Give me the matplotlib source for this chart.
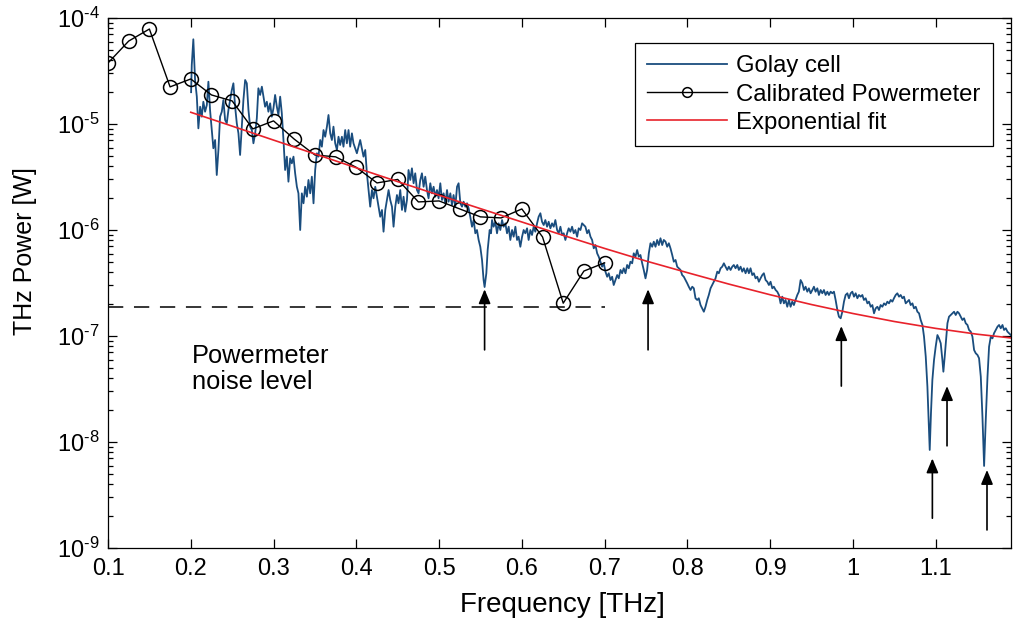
import matplotlib
matplotlib.use("Agg")
import matplotlib.pyplot as plt
import numpy as np
from matplotlib.ticker import FixedLocator, NullLocator, LogLocator, FixedFormatter, FuncFormatter


# =========================
# DATOS
# =========================

# Golay cell: frecuencia [THz] y log10 de la potencia [W]
golay_freq = [
    0.2004, 0.2012, 0.2031, 0.2052, 0.2073, 0.2092, 0.2113, 0.2133, 0.2152, 0.2173,
    0.2194, 0.2213, 0.2233, 0.2254, 0.2273, 0.2294, 0.2314, 0.2334, 0.2354, 0.2375,
    0.2394, 0.2415, 0.2435, 0.2455, 0.2496, 0.2515, 0.2536, 0.2556, 0.2576, 0.2596,
    0.2617, 0.2636, 0.2657, 0.2677, 0.2697, 0.2717, 0.2738, 0.2757, 0.2778, 0.2798,
    0.2817, 0.2838, 0.2859, 0.2878, 0.2898, 0.2919, 0.2938, 0.2959, 0.2979, 0.2999,
    0.3019, 0.3040, 0.3059, 0.3080, 0.3100, 0.3120, 0.3140, 0.3161, 0.3180, 0.3201,
    0.3221, 0.3241, 0.3261, 0.3282, 0.3301, 0.3322, 0.3342, 0.3362, 0.3382, 0.3403,
    0.3422, 0.3443, 0.3463, 0.3483, 0.3503, 0.3524, 0.3543, 0.3564, 0.3584, 0.3604,
    0.3624, 0.3645, 0.3664, 0.3685, 0.3705, 0.3724, 0.3745, 0.3766, 0.3785, 0.3805,
    0.3826, 0.3845, 0.3866, 0.3886, 0.3906, 0.3926, 0.3947, 0.3966,
    0.4007, 0.4047, 0.4087, 0.4108, 0.4128, 0.4148, 0.4168, 0.4189, 0.4208, 0.4229,
    0.4249, 0.4269, 0.4289, 0.4310, 0.4329, 0.4350, 0.4370, 0.4390, 0.4410, 0.4431,
    0.4450, 0.4471, 0.4491, 0.4510, 0.4531, 0.4552, 0.4571, 0.4591, 0.4612, 0.4631,
    0.4652, 0.4672, 0.4692, 0.4712, 0.4733, 0.4752, 0.4773, 0.4793, 0.4813, 0.4833,
    0.4854, 0.4873, 0.4894, 0.4914, 0.4934, 0.4954, 0.4975, 0.4994, 0.5015, 0.5035,
    0.5055, 0.5075, 0.5096, 0.5115, 0.5136, 0.5156, 0.5175, 0.5196, 0.5217, 0.5236,
    0.5257, 0.5277, 0.5296, 0.5317, 0.5338, 0.5357, 0.5377, 0.5398, 0.5418, 0.5438,
    0.5458, 0.5478, 0.5498, 0.5519, 0.5538, 0.5550, 0.5571, 0.5587, 0.5611, 0.5628,
    0.5640, 0.5659, 0.5680, 0.5700, 0.5720, 0.5740, 0.5761, 0.5780, 0.5801, 0.5821,
    0.5841, 0.5861, 0.5882, 0.5901, 0.5922, 0.5942, 0.5961, 0.5982, 0.6003, 0.6022,
    0.6042, 0.6063, 0.6082, 0.6103, 0.6123, 0.6143, 0.6163, 0.6184, 0.6203, 0.6224,
    0.6244, 0.6264, 0.6284, 0.6305, 0.6324, 0.6345, 0.6365, 0.6385, 0.6405, 0.6426,
    0.6445, 0.6466, 0.6486, 0.6506, 0.6526, 0.6547, 0.6566, 0.6587, 0.6607, 0.6627,
    0.6647, 0.6668, 0.6687, 0.6708, 0.6728, 0.6748, 0.6768, 0.6789, 0.6808, 0.6829,
    0.6849, 0.6869, 0.6889, 0.6910, 0.6929, 0.6950, 0.6970, 0.6990, 0.7010, 0.7031,
    0.7050, 0.7071, 0.7091, 0.7110, 0.7131, 0.7152, 0.7171, 0.7192, 0.7212, 0.7231,
    0.7252, 0.7272, 0.7292, 0.7312, 0.7333, 0.7352, 0.7373, 0.7393, 0.7413, 0.7433,
    0.7454, 0.7473, 0.7494, 0.7514, 0.7534, 0.7554, 0.7575, 0.7594, 0.7615, 0.7635,
    0.7655, 0.7675, 0.7696, 0.7715, 0.7736, 0.7756, 0.7776, 0.7796, 0.7817, 0.7836,
    0.7857, 0.7877, 0.7897, 0.7917, 0.7937, 0.7957, 0.7978, 0.7998, 0.8017,
    0.8038, 0.8059, 0.8078, 0.8098, 0.8119, 0.8138, 0.8159, 0.8179, 0.8199, 0.8219,
    0.8240, 0.8259, 0.8280, 0.8300, 0.8320, 0.8340, 0.8361, 0.8380, 0.8401, 0.8421,
    0.8441, 0.8461, 0.8482, 0.8501, 0.8522, 0.8542, 0.8561, 0.8582, 0.8603, 0.8622,
    0.8643, 0.8663, 0.8682, 0.8703, 0.8724, 0.8743, 0.8763, 0.8784, 0.8803, 0.8824,
    0.8844, 0.8864, 0.8884, 0.8905, 0.8924, 0.8945, 0.8965, 0.8985, 0.9005, 0.9026,
    0.9045, 0.9066, 0.9086, 0.9106, 0.9126, 0.9147, 0.9166, 0.9186, 0.9207, 0.9227,
    0.9247, 0.9267, 0.9287, 0.9307, 0.9328, 0.9347, 0.9368, 0.9389, 0.9408, 0.9428,
    0.9449, 0.9468, 0.9489, 0.9510, 0.9529, 0.9549, 0.9570, 0.9589, 0.9610, 0.9630,
    0.9650, 0.9670, 0.9691, 0.9710, 0.9731, 0.9751, 0.9771, 0.9791, 0.9812, 0.9831,
    0.9852, 0.9872, 0.9892, 0.9912, 0.9933, 0.9952, 0.9973, 0.9993, 1.0013, 1.0033,
    1.0054, 1.0073, 1.0094, 1.0114, 1.0133, 1.0154, 1.0175, 1.0194, 1.0215, 1.0235,
    1.0255, 1.0275, 1.0296, 1.0315, 1.0335, 1.0356, 1.0376, 1.0396, 1.0416, 1.0436,
    1.0457, 1.0477, 1.0496, 1.0517, 1.0537, 1.0557, 1.0577, 1.0598, 1.0617, 1.0638,
    1.0658, 1.0678, 1.0698, 1.0719, 1.0738, 1.0759, 1.0779, 1.0799, 1.0819, 1.0840,
    1.0859, 1.0880, 1.0900, 1.0912, 1.0928, 1.0943, 1.0960, 1.0980, 1.1000, 1.1021,
    1.1040, 1.1061, 1.1081, 1.1093, 1.1109, 1.1125, 1.1142, 1.1161, 1.1182, 1.1203,
    1.1222, 1.1242, 1.1263, 1.1282, 1.1303, 1.1323, 1.1343, 1.1363, 1.1384, 1.1403,
    1.1424, 1.1444, 1.1464, 1.1484, 1.1505, 1.1524, 1.1545, 1.1565, 1.1585, 1.1605,
    1.1626, 1.1645, 1.1666, 1.1686, 1.1705, 1.1726, 1.1747, 1.1766, 1.1786, 1.1807,
    1.1826, 1.1847, 1.1867, 1.1887, 1.1908,
]

golay_log10_power = [
    -4.700, -4.443, -4.201, -4.585, -4.742, -5.041, -4.837, -4.931, -4.790, -4.884,
    -4.821, -4.601, -4.868, -5.057, -5.229, -5.151, -5.481, -5.245, -4.931, -4.884,
    -4.774, -4.962, -4.993, -4.868, -4.679, -4.616, -4.837, -4.993, -5.088, -5.292,
    -5.025, -4.774, -4.585, -4.616, -4.868, -5.025, -5.057, -5.182, -5.088, -4.946,
    -4.663, -4.726, -4.648, -4.742, -4.837, -4.790, -4.884, -4.805, -4.931, -4.852,
    -4.726, -4.837, -4.915, -4.742, -4.899, -5.151, -5.434, -5.308, -5.544, -5.324,
    -5.371, -5.308, -5.465, -5.592, -5.654, -6.000, -5.654, -5.748, -5.592, -5.686,
    -5.528, -5.654, -5.497, -5.748, -5.434, -5.276, -5.308, -5.151, -5.214, -5.057,
    -5.120, -5.025, -4.915, -5.088, -5.151, -5.025, -5.182, -5.245, -5.120, -5.198,
    -5.120, -5.214, -5.057, -5.182, -5.057, -5.214, -5.088, -5.182,
    -5.276, -5.151, -5.308, -5.245, -5.465, -5.623, -5.780, -5.623, -5.701, -5.592,
    -5.686, -5.780, -5.875, -5.811, -6.016, -5.811, -5.717, -5.623, -5.717, -5.780,
    -5.969, -5.780, -5.670, -5.748, -5.623, -5.811, -5.686, -5.827, -5.717, -5.434,
    -5.528, -5.418, -5.559, -5.465, -5.623, -5.654, -5.528, -5.465, -5.592, -5.497,
    -5.623, -5.701, -5.559, -5.654, -5.592, -5.686, -5.623, -5.701, -5.559, -5.717,
    -5.654, -5.748, -5.623, -5.733, -5.654, -5.764, -5.670, -5.780, -5.592, -5.559,
    -5.748, -5.780, -5.733, -5.780, -5.748, -5.795, -5.875, -5.969, -5.906, -6.031,
    -6.000, -6.094, -6.158, -6.283, -6.472, -6.538, -6.408, -6.189, -6.000, -6.031,
    -5.906, -5.969, -5.922, -6.031, -5.937, -6.000, -5.906, -5.969, -5.937, -6.031,
    -5.969, -6.094, -6.000, -6.063, -5.969, -6.094, -6.063, -6.158, -6.063, -6.000,
    -6.031, -5.984, -6.094, -6.000, -6.047, -5.969, -6.016, -5.937, -5.875, -5.842,
    -5.922, -5.953, -5.906, -5.969, -5.922, -5.984, -5.937, -5.969, -5.906, -6.000,
    -6.031, -5.969, -6.047, -6.031, -6.094, -6.031, -5.984, -6.016, -5.969, -6.031,
    -6.000, -6.063, -5.984, -6.000, -5.937, -5.953, -5.969, -6.031, -6.000, -6.063,
    -6.094, -6.173, -6.142, -6.220, -6.252, -6.299, -6.346, -6.314, -6.393, -6.441,
    -6.408, -6.472, -6.441, -6.519, -6.472, -6.425, -6.456, -6.377, -6.408, -6.361,
    -6.408, -6.330, -6.361, -6.299, -6.314, -6.220, -6.252, -6.189, -6.252, -6.236,
    -6.314, -6.377, -6.456, -6.377, -6.220, -6.125, -6.158, -6.110, -6.158, -6.094,
    -6.142, -6.078, -6.142, -6.094, -6.110, -6.158, -6.125, -6.173, -6.236, -6.299,
    -6.283, -6.346, -6.361, -6.377, -6.425, -6.441, -6.472, -6.503, -6.535,
    -6.566, -6.535, -6.550, -6.644, -6.660, -6.644, -6.708, -6.739, -6.771, -6.724,
    -6.660, -6.613, -6.550, -6.519, -6.488, -6.456, -6.393, -6.408, -6.361, -6.346,
    -6.314, -6.346, -6.377, -6.346, -6.377, -6.346, -6.330, -6.361, -6.330, -6.377,
    -6.346, -6.393, -6.361, -6.408, -6.361, -6.408, -6.361, -6.425, -6.408, -6.456,
    -6.441, -6.488, -6.456, -6.425, -6.408, -6.472, -6.488, -6.519, -6.488, -6.550,
    -6.535, -6.566, -6.582, -6.613, -6.692, -6.629, -6.692, -6.660, -6.724, -6.660,
    -6.724, -6.676, -6.708, -6.660, -6.613, -6.582, -6.472, -6.503, -6.566, -6.535,
    -6.582, -6.550, -6.597, -6.566, -6.535, -6.582, -6.550, -6.613, -6.566, -6.597,
    -6.566, -6.613, -6.582, -6.613, -6.582, -6.597, -6.582, -6.660, -6.755, -6.818,
    -6.833, -6.771, -6.676, -6.613, -6.597, -6.644, -6.597, -6.582, -6.629, -6.597,
    -6.644, -6.613, -6.629, -6.613, -6.660, -6.644, -6.692, -6.676, -6.724, -6.708,
    -6.786, -6.739, -6.724, -6.755, -6.708, -6.724, -6.692, -6.708, -6.676, -6.692,
    -6.660, -6.676, -6.644, -6.613, -6.597, -6.629, -6.613, -6.644, -6.629, -6.692,
    -6.676, -6.660, -6.708, -6.692, -6.739, -6.724, -6.771, -6.786, -6.849, -6.896,
    -7.006, -7.195, -7.478, -7.729, -8.075, -7.729, -7.415, -7.226, -7.101, -6.991,
    -7.022, -7.069, -7.226, -7.337, -7.195, -7.038, -6.880, -6.818, -6.802, -6.786,
    -6.771, -6.802, -6.771, -6.786, -6.818, -6.849, -6.833, -6.880, -6.896, -6.943,
    -6.959, -7.006, -7.132, -7.163, -7.179, -7.210, -7.384, -7.761, -8.226, -7.792,
    -7.384, -7.101, -7.006, -7.022, -6.974, -6.943, -6.912, -6.896, -6.927, -6.896,
    -6.943, -6.927, -6.959, -6.974, -6.991,
]

# Powermeter calibrado [W]
pm_freq = [0.100, 0.125, 0.150, 0.175, 0.200, 0.225, 0.250, 0.275, 0.300, 0.325,
           0.350, 0.375, 0.400, 0.425, 0.450, 0.475, 0.500, 0.525, 0.550, 0.575,
           0.600, 0.625, 0.650, 0.675, 0.700]
pm_power = [3.76e-5, 6.06e-5, 7.87e-5, 2.24e-5, 2.66e-5, 1.88e-5, 1.65e-5, 9.0e-6, 1.07e-5, 7.2e-6,
            5.1e-6, 4.9e-6, 3.9e-6, 2.78e-6, 3.0e-6, 1.84e-6, 1.88e-6, 1.58e-6, 1.33e-6, 1.30e-6,
            1.58e-6, 8.6e-7, 2.04e-7, 4.1e-7, 4.9e-7]

# Ajuste exponencial [W]
fit_freq = [0.20, 0.25, 0.30, 0.35, 0.40, 0.45, 0.50, 0.55, 0.60, 0.65, 0.70,
            0.75, 0.80, 0.85, 0.90, 0.95, 1.00, 1.05, 1.10, 1.15, 1.19]
fit_power = [1.29e-5, 9.55e-6, 7.05e-6, 5.22e-6, 3.86e-6, 2.86e-6, 2.13e-6, 1.59e-6, 1.19e-6, 8.9e-7, 6.7e-7,
             5.1e-7, 3.96e-7, 3.09e-7, 2.45e-7, 1.98e-7, 1.63e-7, 1.37e-7, 1.18e-7, 1.04e-7, 9.6e-8]

# Nivel de ruido del powermeter
noise_freq = [0.1, 0.7]
noise_level = 1.89e-7

# Flechas: frecuencia, punta, cola [W]
arrow_freq = [0.555, 0.7525, 0.986, 1.096, 1.1137, 1.162]
arrow_tip = [2.76e-7, 2.76e-7, 1.24e-7, 7.0e-9, 3.37e-8, 5.45e-9]
arrow_tail = [7.4e-8, 7.4e-8, 3.37e-8, 1.91e-9, 9.2e-9, 1.48e-9]

x_ticks = [0.1, 0.2, 0.3, 0.4, 0.5, 0.6, 0.7, 0.8, 0.9, 1.0, 1.1]
x_tick_labels = ["0.1", "0.2", "0.3", "0.4", "0.5", "0.6", "0.7", "0.8", "0.9", "1", "1.1"]

BLUE = "#1a4d7e"
RED = "#e8222b"


def decade_label(value, pos):
    # 10^-n con guion corto, como en la figura original
    exp = int(round(np.log10(value)))
    sign = r"\text{-}" if exp < 0 else ""
    return r"$\mathdefault{10^{%s%d}}$" % (sign, abs(exp))


def main() -> None:
    plt.rcParams["font.family"] = ["Liberation Sans", "DejaVu Sans"]
    plt.rcParams["mathtext.fontset"] = "custom"
    plt.rcParams["mathtext.rm"] = "Liberation Sans"
    plt.rcParams["mathtext.it"] = "Liberation Sans:italic"
    plt.rcParams["mathtext.bf"] = "Liberation Sans:bold"
    plt.rcParams["axes.unicode_minus"] = False

    fig = plt.figure(figsize=(10.14, 6.31), dpi=100)
    ax = fig.add_axes([108 / 1014, 83 / 631, 903 / 1014, 530 / 631])

    golay_power = 10.0 ** np.array(golay_log10_power)

    ax.plot(golay_freq, golay_power, color=BLUE, lw=1.3, label="Golay cell")
    ax.plot(pm_freq, pm_power, color="black", lw=1.0, marker="o", ms=10,
            mfc="none", mec="black", mew=1.1, label="Calibrated Powermeter")
    ax.plot(fit_freq, fit_power, color=RED, lw=1.2, label="Exponential fit")
    ax.plot(noise_freq, [noise_level, noise_level], color="black", lw=1.1,
            dashes=(10, 7))

    for f, tip, tail in zip(arrow_freq, arrow_tip, arrow_tail):
        ax.annotate("", xy=(f, tip), xytext=(f, tail),
                    arrowprops=dict(arrowstyle="-|>,head_length=0.72,head_width=0.3",
                                    color="black", lw=1.2, shrinkA=0, shrinkB=0,
                                    mutation_scale=12))

    ax.text(0.2015, 4.9e-8, "Powermeter\nnoise level", fontsize=18.3,
            ha="left", va="center", linespacing=1.08)

    ax.set_yscale("log")
    ax.set_xlim(0.1, 1.191)
    ax.set_ylim(1e-9, 1e-4)

    ax.xaxis.set_major_locator(FixedLocator(x_ticks))
    ax.xaxis.set_major_formatter(FixedFormatter(x_tick_labels))
    ax.xaxis.set_minor_locator(NullLocator())
    ax.yaxis.set_major_locator(LogLocator(base=10, numticks=10))
    ax.yaxis.set_major_formatter(FuncFormatter(decade_label))
    ax.yaxis.set_minor_locator(LogLocator(base=10, subs=np.arange(2, 10), numticks=10))
    ax.yaxis.set_minor_formatter(FuncFormatter(lambda v, p: ""))

    ax.tick_params(which="both", direction="in", top=True, right=True, width=0.9)
    ax.tick_params(which="major", length=6.5, labelsize=17)
    ax.tick_params(axis="x", which="major", pad=7)
    ax.tick_params(axis="y", which="major", pad=6)
    ax.tick_params(which="minor", length=3.5)
    for sp in ax.spines.values():
        sp.set_linewidth(0.9)

    ax.set_xlabel("Frequency [THz]", fontsize=20)
    ax.set_ylabel("THz Power [W]", fontsize=18)
    ax.xaxis.set_label_coords(0.503, -0.083)
    ax.yaxis.set_label_coords(-0.079, 0.56)

    leg = ax.legend(loc="upper right", bbox_to_anchor=(0.980, 0.953), borderaxespad=0,
                    fontsize=17.2, fancybox=False, framealpha=1, edgecolor="black",
                    handlelength=3.35, handletextpad=0.38, borderpad=0.52, labelspacing=0.26)
    leg.get_frame().set_linewidth(0.9)
    leg.get_lines()[1].set_markersize(7)

    fig.savefig("out.png", dpi=100)


if __name__ == "__main__":
    main()
